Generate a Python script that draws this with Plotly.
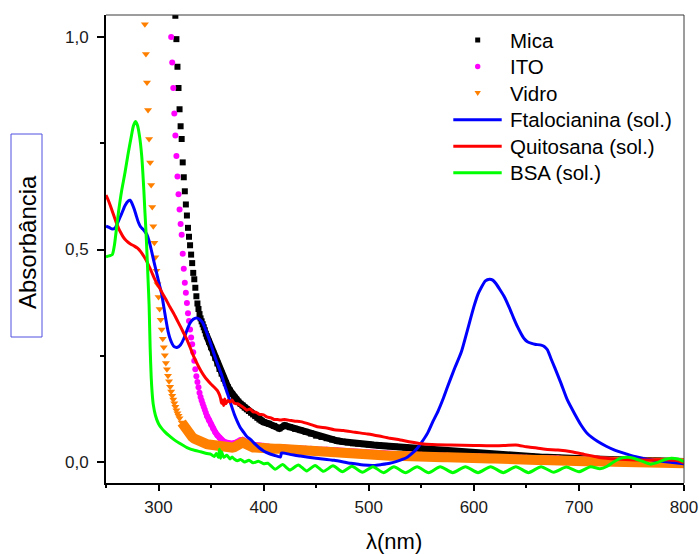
import numpy as np
import plotly.graph_objects as go

# ---- data: UV-Vis absorbance spectra -------------------------------------
# Substrates (symbols): sampled every 1 nm on the absorption edge,
# every 2 nm on the shoulder and every 5 nm on the flat tail.
mica_nm = np.concatenate([np.arange(315, 346, 1), np.arange(346, 401, 2), np.arange(405, 801, 5)])
mica_abs = [
    1.10, 1.05, 0.995, 0.93, 0.88, 0.83, 0.79, 0.76, 0.705, 0.67,
    0.637, 0.606, 0.58, 0.551, 0.53, 0.51, 0.488, 0.468, 0.445, 0.43,
    0.41, 0.39, 0.373, 0.36, 0.348, 0.338, 0.331, 0.324, 0.317, 0.31, 0.302,
    0.296, 0.283, 0.27, 0.257, 0.245, 0.232, 0.219, 0.208, 0.196, 0.186,
    0.176, 0.168, 0.16, 0.153, 0.147, 0.142, 0.137, 0.133, 0.128, 0.124,
    0.12, 0.116, 0.112, 0.108, 0.104, 0.1, 0.097, 0.094,
    0.090, 0.085, 0.079, 0.086, 0.082, 0.078, 0.075, 0.071, 0.067, 0.062,
    0.059, 0.056, 0.053, 0.050, 0.048, 0.046, 0.044, 0.043, 0.042, 0.041,
    0.040, 0.039, 0.038, 0.037, 0.036, 0.035, 0.034, 0.033, 0.032, 0.031,
    0.030, 0.029, 0.028, 0.027, 0.026, 0.025, 0.024, 0.023, 0.022, 0.021,
    0.020, 0.019, 0.019, 0.018, 0.017, 0.016, 0.016, 0.015, 0.014, 0.013,
    0.013, 0.012, 0.011, 0.011, 0.010, 0.010, 0.009, 0.009, 0.008, 0.008,
    0.007, 0.007, 0.007, 0.006, 0.006, 0.006, 0.005, 0.005, 0.005, 0.004,
    0.004, 0.004, 0.003, 0.003, 0.003, 0.002, 0.002, 0.002, 0.001, 0.001,
]

ito_nm = np.concatenate([np.arange(311, 346, 1), np.arange(346, 401, 2), np.arange(405, 801, 5)])
ito_abs = [
    1.06, 1.0, 0.94, 0.88, 0.82, 0.768, 0.72, 0.672, 0.63, 0.594,
    0.56, 0.535, 0.49, 0.455, 0.422, 0.398, 0.374, 0.35, 0.332, 0.312,
    0.293, 0.277, 0.258, 0.238, 0.218, 0.202, 0.188, 0.176, 0.163, 0.153,
    0.145, 0.137, 0.13, 0.123, 0.116,
    0.109, 0.098, 0.088, 0.079, 0.070, 0.063, 0.057, 0.052, 0.048, 0.046,
    0.044, 0.043, 0.043, 0.044, 0.046, 0.049, 0.052, 0.052, 0.049, 0.045,
    0.042, 0.041, 0.040, 0.040, 0.039, 0.039, 0.038, 0.038,
    0.036, 0.035, 0.035, 0.034, 0.033, 0.033, 0.032, 0.031, 0.031, 0.030,
    0.029, 0.029, 0.028, 0.027, 0.026, 0.025, 0.024, 0.023, 0.022, 0.022,
    0.021, 0.020, 0.020, 0.019, 0.019, 0.018, 0.018, 0.017, 0.017, 0.017,
    0.016, 0.016, 0.015, 0.015, 0.015, 0.014, 0.014, 0.014, 0.013, 0.013,
    0.013, 0.012, 0.012, 0.012, 0.011, 0.011, 0.011, 0.010, 0.010, 0.010,
    0.009, 0.009, 0.009, 0.008, 0.008, 0.008, 0.007, 0.007, 0.007, 0.007,
    0.006, 0.006, 0.006, 0.005, 0.005, 0.005, 0.005, 0.004, 0.004, 0.004,
    0.003, 0.003, 0.003, 0.003, 0.002, 0.002, 0.002, 0.002, 0.001, 0.001,
]

vidro_nm = np.concatenate([np.arange(286, 321, 1), np.arange(322, 401, 2), np.arange(405, 801, 5)])
vidro_abs = [
    1.09, 1.03, 0.96, 0.893, 0.828, 0.76, 0.705, 0.652, 0.60, 0.555,
    0.516, 0.482, 0.45, 0.418, 0.388, 0.36, 0.335, 0.312, 0.29, 0.27,
    0.251, 0.233, 0.218, 0.203, 0.19, 0.177, 0.166, 0.156, 0.147, 0.138,
    0.13, 0.122, 0.115, 0.109, 0.103,
    0.093, 0.084, 0.076, 0.069, 0.064, 0.059, 0.055, 0.052, 0.049, 0.047,
    0.045, 0.043, 0.042, 0.041, 0.040, 0.039, 0.038, 0.037, 0.036, 0.036,
    0.035, 0.035, 0.034, 0.034, 0.034, 0.035, 0.036, 0.039, 0.043, 0.046,
    0.043, 0.038, 0.036, 0.035, 0.034, 0.034, 0.033, 0.033, 0.033, 0.032,
    0.032, 0.031, 0.031, 0.030, 0.029, 0.029, 0.028, 0.027, 0.027, 0.026,
    0.025, 0.025, 0.024, 0.023, 0.022, 0.021, 0.020, 0.019, 0.018, 0.018,
    0.017, 0.016, 0.016, 0.015, 0.015, 0.014, 0.014, 0.013, 0.013, 0.013,
    0.012, 0.012, 0.011, 0.011, 0.011, 0.010, 0.010, 0.010, 0.009, 0.009,
    0.009, 0.008, 0.008, 0.008, 0.007, 0.007, 0.007, 0.006, 0.006, 0.006,
    0.005, 0.005, 0.005, 0.004, 0.004, 0.004, 0.003, 0.003, 0.003, 0.003,
    0.002, 0.002, 0.002, 0.001, 0.001, 0.001, 0.001, 0.000, 0.000, 0.000,
    -0.001, -0.001, -0.001, -0.001, -0.002, -0.002, -0.002, -0.002, -0.003, -0.003,
]

# Solutions (lines)
ftalo_nm = [
    250, 253, 256, 259, 262, 265, 268, 271, 273, 275, 277, 279, 281, 283, 285,
    287, 289, 291, 293, 295, 297, 299, 301, 303, 305, 307, 309, 311, 313, 315,
    318, 321, 324, 327, 330, 333, 336, 339, 342, 345, 348, 351, 354, 357, 360,
    363, 366, 369, 372, 375, 378, 381, 384, 388, 392, 396, 400, 405, 410, 416,
    417, 425, 435, 450, 467, 483, 495, 505, 512, 520, 526, 532, 537, 542, 546,
    550, 556, 561, 566, 571, 575, 581, 588, 594, 600, 604, 607, 611, 615, 618,
    621, 625, 629, 634, 638, 642, 645, 648, 651, 655, 658, 664, 667, 670, 673,
    677, 683, 689, 696, 702, 708, 718, 726, 734, 745, 753, 762, 772, 785, 800,
]
ftalo_abs = [
    0.555, 0.552, 0.548, 0.552, 0.568, 0.585, 0.603, 0.614, 0.616, 0.607, 0.594, 0.578, 0.563, 0.553, 0.548,
    0.542, 0.535, 0.52, 0.5, 0.478, 0.457, 0.436, 0.415, 0.395, 0.365, 0.335, 0.308, 0.29, 0.278, 0.271,
    0.27, 0.276, 0.29, 0.31, 0.327, 0.336, 0.339, 0.336, 0.328, 0.31, 0.29, 0.268, 0.245, 0.225, 0.205,
    0.18, 0.158, 0.135, 0.113, 0.095, 0.08, 0.07, 0.06, 0.052, 0.042, 0.033, 0.026, 0.02, 0.016, 0.012,
    0.021, 0.018, 0.014, 0.009, 0.004, -0.003, -0.007, -0.008, -0.006, -0.003, 0.001, 0.006, 0.012, 0.022, 0.032,
    0.045, 0.068, 0.095, 0.12, 0.15, 0.177, 0.216, 0.258, 0.311, 0.365, 0.395, 0.41, 0.426, 0.43, 0.428,
    0.42, 0.405, 0.389, 0.362, 0.338, 0.316, 0.302, 0.29, 0.283, 0.279, 0.277, 0.275, 0.272, 0.264, 0.246,
    0.222, 0.185, 0.146, 0.113, 0.087, 0.067, 0.048, 0.037, 0.028, 0.019, 0.013, 0.008, 0.004, 0.0, -0.004,
]

quito_nm = [
    250, 252, 254, 256, 258, 260, 262, 264, 266, 268, 271, 274, 277, 280, 283,
    286, 289, 292, 295, 298, 302, 305, 308, 311, 314, 317, 321, 324, 327, 330,
    333, 336, 340, 343, 346, 350, 353, 356, 358, 359, 360, 361, 362, 363, 364,
    366, 368, 370, 372, 375, 378, 381, 384, 387, 390, 393, 396, 400, 403, 407,
    410, 413, 416, 420, 425, 430, 435, 445, 451, 460, 467, 476, 487, 499, 510,
    520, 530, 540, 550, 560, 578, 600, 616, 630, 640, 650, 660, 668, 680, 693,
    705, 715, 721, 735, 753, 770, 785, 792, 800,
]
quito_abs = [
    0.628, 0.617, 0.604, 0.59, 0.576, 0.562, 0.55, 0.54, 0.531, 0.524, 0.517, 0.512, 0.508, 0.503, 0.495,
    0.484, 0.471, 0.455, 0.438, 0.422, 0.405, 0.391, 0.378, 0.364, 0.351, 0.337, 0.318, 0.303, 0.288, 0.27,
    0.251, 0.235, 0.216, 0.204, 0.194, 0.183, 0.176, 0.168, 0.158, 0.15, 0.138, 0.146, 0.133, 0.148, 0.137,
    0.145, 0.141, 0.146, 0.138, 0.137, 0.133, 0.128, 0.122, 0.125, 0.118, 0.117, 0.112, 0.111, 0.106, 0.104,
    0.1, 0.1, 0.099, 0.1, 0.098, 0.096, 0.095, 0.088, 0.083, 0.08, 0.076, 0.074, 0.07, 0.066, 0.061,
    0.056, 0.052, 0.047, 0.043, 0.041, 0.04, 0.039, 0.038, 0.039, 0.04, 0.036, 0.033, 0.03, 0.028, 0.024,
    0.018, 0.013, 0.01, 0.007, 0.005, 0.005, 0.005, 0.004, -0.002,
]

bsa_nm = [
    250, 253, 256, 258, 260, 262, 265, 268, 271, 274, 276, 278, 280, 282, 284,
    286, 287, 288, 289, 290, 291, 292, 293, 294, 295, 297, 300, 303, 306, 310,
    315, 320, 327, 335, 340, 346, 350, 353, 355, 357, 358, 359, 360, 362, 365,
    368, 370, 372, 375, 378, 382, 386, 390, 395, 400, 404, 411, 418, 425, 433,
    441, 449, 457, 466, 475, 484, 494, 504, 514, 524, 535, 546, 557, 568, 580,
    592, 604, 616, 628, 640, 652, 664, 676, 688, 700, 711, 720, 727, 733, 740,
    746, 752, 760, 768, 775, 782, 788, 794, 800,
]
bsa_abs = [
    0.483, 0.485, 0.488, 0.51, 0.55, 0.59, 0.64, 0.68, 0.725, 0.765, 0.79, 0.801, 0.792, 0.765, 0.72,
    0.64, 0.59, 0.545, 0.49, 0.43, 0.37, 0.27, 0.2, 0.16, 0.135, 0.11, 0.09, 0.079, 0.071, 0.062,
    0.052, 0.044, 0.034, 0.027, 0.024, 0.02, 0.018, 0.013, 0.02, 0.011, 0.03, 0.009, 0.024, 0.011, 0.016,
    0.007, 0.012, 0.007, 0.003, 0.006, 0.0, 0.004, -0.002, 0.002, -0.004, -0.003, -0.017, -0.006, -0.019, -0.007,
    -0.021, -0.008, -0.022, -0.009, -0.023, -0.010, -0.024, -0.011, -0.025, -0.011, -0.025, -0.011, -0.025, -0.011, -0.025,
    -0.011, -0.025, -0.011, -0.025, -0.011, -0.025, -0.011, -0.024, -0.012, -0.023, -0.011, -0.016, -0.010, 0.000, 0.009,
    0.011, 0.009, 0.002, -0.005, -0.001, 0.006, 0.009, 0.007, 0.001,
]

# ---- geometry helpers (pixel -> paper) ------------------------------------
W, H = 699, 554
L, R, T, B = 106, 15, 15, 71
PW, PH = W - L - R, H - T - B


def px(x):
    return (x - L) / PW


def py(y):
    return (H - B - y) / PH


FONT = "Liberation Sans, Arial, sans-serif"

fig = go.Figure()

# symbol series: (name, x, y, colour, symbol, marker size, wavelength where the
# dense tail starts, band width used to close the gaps along that tail)
symbol_series = [
    ("Mica", mica_nm, mica_abs, "#000000", "square", 6, 346, 7),
    ("ITO", ito_nm, ito_abs, "#ff00ff", "circle", 6, 346, 6),
    ("Vidro", vidro_nm, vidro_abs, "#ff8000", "triangle-down", 7, 322, 10),
]
for name, xs, ys, col, sym, msize, tail_start, band in symbol_series:
    xs = np.asarray(xs)
    ys = np.asarray(ys)
    tail = xs >= tail_start
    fig.add_trace(go.Scatter(
        x=xs[tail], y=ys[tail], mode="lines", showlegend=False, hoverinfo="skip",
        line=dict(color=col, width=band),
    ))
    fig.add_trace(go.Scatter(
        x=xs, y=ys, mode="markers", name=name, showlegend=False,
        marker=dict(symbol=sym, color=col, size=msize, line=dict(width=0)),
    ))

line_series = [
    ("Ftalocianina (sol.)", ftalo_nm, ftalo_abs, "#0000ff"),
    ("Quitosana (sol.)", quito_nm, quito_abs, "#ff0000"),
    ("BSA (sol.)", bsa_nm, bsa_abs, "#00ff00"),
]
for name, xs, ys, col in line_series:
    fig.add_trace(go.Scatter(
        x=xs, y=ys, mode="lines", name=name, showlegend=False,
        line=dict(color=col, width=3, shape="spline", smoothing=0.6),
    ))

axis_common = dict(
    showgrid=False, zeroline=False, showline=True, linecolor="#000000", linewidth=2,
    ticks="outside", tickwidth=1.5, tickcolor="#000000", automargin=False,
    tickfont=dict(family=FONT, size=17, color="#1a1a1a"),
)

fig.update_xaxes(
    range=[250, 800], tick0=300, dtick=100, ticklen=6, ticklabelstandoff=2,
    minor=dict(tick0=250, dtick=50, ticks="outside", ticklen=3, tickwidth=1.5, tickcolor="#000000", showgrid=False),
    **axis_common,
)
fig.update_yaxes(
    range=[-0.0494, 1.0518], tick0=0, dtick=0.5, tickformat=".1f", ticklen=7, ticklabelstandoff=5,
    minor=dict(tick0=0, dtick=0.25, ticks="outside", ticklen=4, tickwidth=1.5, tickcolor="#000000", showgrid=False),
    **axis_common,
)

shapes = [
    # thin top / right frame
    dict(type="line", xref="paper", yref="paper", x0=0, x1=1, y0=1, y1=1,
         line=dict(color="#3a3a3a", width=1)),
    dict(type="line", xref="paper", yref="paper", x0=1, x1=1, y0=0, y1=1,
         line=dict(color="#3a3a3a", width=1)),
    # boxed y-axis label
    dict(type="rect", xref="paper", yref="paper", x0=px(11), x1=px(42), y0=py(337), y1=py(134),
         line=dict(color="#5050e0", width=1), fillcolor="rgba(0,0,0,0)"),
]

annotations = [
    dict(text="Absorbância", xref="paper", yref="paper", x=px(27), y=py(242), textangle=-90,
         showarrow=False, xanchor="center", yanchor="middle",
         font=dict(family=FONT, size=24, color="#000000")),
    dict(text="λ(nm)", xref="paper", yref="paper", x=px(394), y=py(541),
         showarrow=False, xanchor="center", yanchor="middle",
         font=dict(family=FONT, size=22, color="#000000")),
]

# ---- legend (keys drawn as shapes, labels as annotations) -----------------
LEG_TEXT_X, LEG_KEY_X = 507.5, 477.7
LEG_LINE_X0, LEG_LINE_X1 = 453.3, 501.7
LEG_ROW_Y0, LEG_ROW_DY = 40.0, 26.55
legend_entries = [
    ("Mica", "#000000", "square"),
    ("ITO", "#ff00ff", "circle"),
    ("Vidro", "#ff8000", "triangle"),
    ("Ftalocianina (sol.)", "#0000ff", "line"),
    ("Quitosana (sol.)", "#ff0000", "line"),
    ("BSA (sol.)", "#00ff00", "line"),
]
for i, (label, col, key) in enumerate(legend_entries):
    yc = LEG_ROW_Y0 + i * LEG_ROW_DY
    annotations.append(dict(
        text=label, xref="paper", yref="paper", x=px(LEG_TEXT_X), y=py(yc),
        xanchor="left", yanchor="middle", showarrow=False,
        font=dict(family=FONT, size=20.5, color="#000000"),
    ))
    if key == "line":
        shapes.append(dict(type="line", xref="paper", yref="paper",
                           x0=px(LEG_LINE_X0), x1=px(LEG_LINE_X1), y0=py(yc), y1=py(yc),
                           line=dict(color=col, width=3)))
    elif key == "square":
        shapes.append(dict(type="rect", xref="paper", yref="paper",
                           x0=px(LEG_KEY_X - 2.5), x1=px(LEG_KEY_X + 2.5), y0=py(yc + 2.5), y1=py(yc - 2.5),
                           fillcolor=col, line=dict(width=0)))
    elif key == "circle":
        shapes.append(dict(type="circle", xref="paper", yref="paper",
                           x0=px(LEG_KEY_X - 2.7), x1=px(LEG_KEY_X + 2.7), y0=py(yc + 2.7), y1=py(yc - 2.7),
                           fillcolor=col, line=dict(width=0)))
    else:
        path = "M {:.5f},{:.5f} L {:.5f},{:.5f} L {:.5f},{:.5f} Z".format(
            px(LEG_KEY_X - 3.2), py(yc - 2.2), px(LEG_KEY_X + 3.2), py(yc - 2.2), px(LEG_KEY_X), py(yc + 3.0))
        shapes.append(dict(type="path", xref="paper", yref="paper", path=path,
                           fillcolor=col, line=dict(width=0)))

fig.update_layout(
    width=W, height=H,
    margin=dict(l=L, r=R, t=T, b=B),
    paper_bgcolor="#ffffff", plot_bgcolor="#ffffff",
    separators=", ",
    showlegend=False,
    shapes=shapes, annotations=annotations,
)

fig.write_html("out.html")
